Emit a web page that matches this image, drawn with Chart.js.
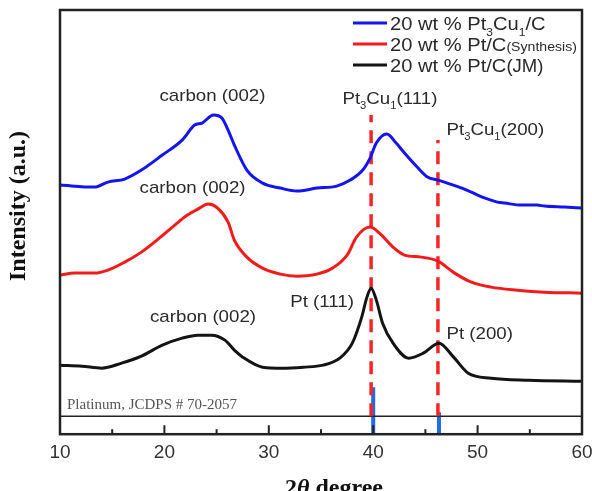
<!DOCTYPE html>
<html>
<head>
<meta charset="utf-8">
<script src="https://cdn.jsdelivr.net/npm/chart.js@4.4.1/dist/chart.umd.min.js"></script>
<style>
    html, body { margin: 0; padding: 0; background: #fff; }
</style>
</head>
<body>
<canvas id="xrdChart" width="592" height="491"></canvas>
<script>
// XRD patterns, 2-theta (deg) vs intensity (a.u., curves stacked with offsets)
const ptCuTheta = [10.0, 13.3, 14.6, 16.2, 17.8, 19.8, 21.7, 22.9, 23.6, 24.7, 25.5, 26.1, 26.7, 27.9, 29.4, 31.1, 32.7, 34.6, 36.5, 37.8, 39.0, 39.7, 40.3, 41.3, 42.2, 43.0, 44.3, 45.2, 46.2, 47.1, 48.5, 49.4, 50.0, 51.0, 51.9, 52.6, 54.2, 55.7, 56.4, 58.3, 60.0];
const ptCuIntensity = [249, 247, 252, 255, 264, 279, 294, 309, 311, 319, 316, 304, 289, 264, 251, 246, 243, 246, 248, 254, 264, 276, 291, 300, 291, 281, 266, 257, 254, 251, 246, 242, 239, 235, 232, 231, 229, 229, 228, 227, 226];

const ptSynTheta = [10.0, 11.4, 13.3, 14.6, 16.2, 17.8, 19.4, 21.0, 22.2, 23.2, 24.2, 25.1, 26.1, 26.7, 27.9, 29.4, 31.1, 32.7, 34.6, 36.1, 37.5, 38.4, 39.7, 40.6, 41.9, 43.0, 44.6, 46.2, 47.8, 49.4, 51.3, 53.8, 56.4, 60.0];
const ptSynIntensity = [159, 161, 161, 164, 172, 182, 195, 209, 219, 225, 230, 226, 212, 194, 177, 166, 160, 158, 160, 166, 179, 197, 207, 201, 187, 179, 177, 173, 161, 152, 147, 144, 142, 141];

const ptJmTheta = [10.0, 12.1, 14.0, 15.9, 17.8, 19.8, 21.7, 23.2, 24.5, 25.8, 26.7, 27.5, 29.4, 31.3, 33.3, 35.2, 36.8, 38.0, 38.9, 39.4, 39.8, 40.3, 40.9, 41.9, 43.4, 44.8, 46.3, 47.7, 49.1, 51.3, 54.9, 60.0];
const ptJmIntensity = [69, 68, 66, 71, 78, 89, 96, 99, 99, 94, 84, 77, 67, 66, 67, 69, 76, 91, 117, 137, 146, 134, 111, 91, 76, 81, 91, 77, 61, 56, 54, 53];

// Platinum reference pattern (JCPDS 70-2057)
const refTheta = [40.0, 46.3];
const refIntensity = [47, 22];
const refBaseline = 18;

// dashed guide lines for Pt3Cu1 (111) and (200)
const guideTheta = [39.8, 46.2];
const guideTop = [319, 294];

const xTicks = [10, 20, 30, 40, 50, 60];
const seriesNames = ['20 wt % Pt3Cu1/C', '20 wt % Pt/C(Synthesis)', '20 wt % Pt/C(JM)'];

function toPoints(xs, ys) {
    return xs.map(function(x, i) { return { x: x, y: ys[i] }; });
}

function curve(label, xs, ys, color) {
    return {
        label: label,
        data: toPoints(xs, ys),
        borderColor: color,
        borderWidth: 3,
        pointRadius: 0,
        showLine: true,
        cubicInterpolationMode: 'monotone'
    };
}

const datasets = [
    curve(seriesNames[0], ptCuTheta, ptCuIntensity, '#1414f0'),
    curve(seriesNames[1], ptSynTheta, ptSynIntensity, '#f31a1a'),
    curve(seriesNames[2], ptJmTheta, ptJmIntensity, '#141414')
];

guideTheta.forEach(function(t, i) {
    datasets.push({
        label: 'guide' + i,
        data: [{ x: t, y: refBaseline }, { x: t, y: guideTop[i] }],
        borderColor: '#f52626',
        borderWidth: 3.5,
        borderDash: [13, 8],
        pointRadius: 0,
        showLine: true
    });
});

datasets.push({
    label: 'baseline',
    data: [{ x: xTicks[0], y: refBaseline }, { x: xTicks[xTicks.length - 1], y: refBaseline }],
    borderColor: '#222',
    borderWidth: 1.5,
    pointRadius: 0,
    showLine: true
});

refTheta.forEach(function(t, i) {
    datasets.push({
        label: 'ref' + i,
        data: [{ x: t, y: 0 }, { x: t, y: refIntensity[i] }],
        borderColor: '#1f6be8',
        borderWidth: 4,
        pointRadius: 0,
        showLine: true
    });
});

const SANS = 'Arial, "Liberation Sans", sans-serif';
const SERIF = '"Times New Roman", "Liberation Serif", serif';

// text segments: [text, relative size, baseline shift in em, font style]
function drawRich(ctx, parts, x, y, size, opts) {
    const family = opts.family || SANS;
    const weight = opts.weight ? opts.weight + ' ' : '';
    const sx = opts.stretch || 1;
    let w = 0;
    parts.forEach(function(p) {
        ctx.font = (p[3] || weight) + (size * (p[1] || 1)) + 'px ' + family;
        w += ctx.measureText(p[0]).width;
    });
    const startX = opts.align === 'center' ? x - w * sx / 2 : x;
    ctx.save();
    ctx.fillStyle = opts.color || '#222';
    ctx.textBaseline = 'alphabetic';
    ctx.textAlign = 'left';
    ctx.translate(startX, y);
    ctx.scale(sx, 1);
    let px = 0;
    parts.forEach(function(p) {
        ctx.font = (p[3] || weight) + (size * (p[1] || 1)) + 'px ' + family;
        ctx.fillText(p[0], px, (p[2] || 0) * size);
        px += ctx.measureText(p[0]).width;
    });
    ctx.restore();
}

// peak labels anchored in data coordinates (center x, baseline y)
const peakLabels = [
    { at: [24.6, 333], parts: [['carbon (002)']] },
    { at: [22.7, 241], parts: [['carbon (002)']] },
    { at: [23.7, 112], parts: [['carbon (002)']] },
    { at: [41.6, 330], parts: [['Pt'], ['3', 0.6, 0.3], ['Cu'], ['1', 0.6, 0.3], ['(111)']] },
    { at: [51.7, 299], parts: [['Pt'], ['3', 0.6, 0.3], ['Cu'], ['1', 0.6, 0.3], ['(200)']] },
    { at: [35.1, 127], parts: [['Pt (111)']] },
    { at: [50.2, 95], parts: [['Pt (200)']] }
];

const legendParts = [
    [['20 wt % Pt'], ['3', 0.6, 0.3], ['Cu'], ['1', 0.6, 0.3], ['/C']],
    [['20 wt % Pt/C'], ['(Synthesis)', 0.7]],
    [['20 wt % Pt/C'], ['(JM)', 0.92]]
];
const legendColors = ['#1414f0', '#f31a1a', '#141414'];

const decorPlugin = {
    id: 'decor',
    afterDatasetsDraw: function(chart) {
        const ctx = chart.ctx;
        const area = chart.chartArea;
        const xs = chart.scales.x;
        const ys = chart.scales.y;

        // inward ticks
        ctx.save();
        ctx.strokeStyle = '#222';
        ctx.lineWidth = 2;
        for (let v = xTicks[0]; v <= xTicks[xTicks.length - 1]; v += 5) {
            const px = xs.getPixelForValue(v);
            const len = v % 10 === 0 ? 9 : 5;
            ctx.beginPath();
            ctx.moveTo(px, area.bottom);
            ctx.lineTo(px, area.bottom - len);
            ctx.stroke();
        }
        // frame
        ctx.lineWidth = 2.5;
        ctx.strokeRect(area.left, area.top, area.right - area.left, area.bottom - area.top);
        ctx.restore();

        peakLabels.forEach(function(l) {
            drawRich(ctx, l.parts, xs.getPixelForValue(l.at[0]), ys.getPixelForValue(l.at[1]), 17,
                { align: 'center', stretch: 1.1, color: '#2a2a2a' });
        });

        drawRich(ctx, [['Platinum, JCDPS # 70-2057']], area.left + 7, ys.getPixelForValue(refBaseline) - 7, 15,
            { family: SERIF, color: '#555' });

        // legend
        legendParts.forEach(function(parts, i) {
            const cy = area.top + 13 + i * 21;
            ctx.save();
            ctx.strokeStyle = legendColors[i];
            ctx.lineWidth = 3;
            ctx.beginPath();
            ctx.moveTo(353, cy);
            ctx.lineTo(387, cy);
            ctx.stroke();
            ctx.restore();
            drawRich(ctx, parts, 390, cy + 7, 19, { stretch: 1.06, color: '#2a2a2a' });
        });

        // axis titles
        drawRich(ctx, [['2'], ['\u03b8', 1, 0, 'italic bold '], [' degree']], 334, 495, 24,
            { family: SERIF, weight: 'bold', align: 'center', color: '#111' });
        ctx.save();
        ctx.translate(25, 206);
        ctx.rotate(-Math.PI / 2);
        ctx.font = 'bold 24px ' + SERIF;
        ctx.fillStyle = '#111';
        ctx.textAlign = 'center';
        ctx.textBaseline = 'alphabetic';
        ctx.fillText('Intensity (a.u.)', 0, 0);
        ctx.restore();
    }
};

new Chart(document.getElementById('xrdChart').getContext('2d'), {
    type: 'scatter',
    data: { datasets: datasets },
    options: {
        responsive: false,
        animation: false,
        layout: {
            autoPadding: false,
            padding: { left: 60, right: 10, top: 10, bottom: 20 }
        },
        plugins: {
            legend: { display: false },
            tooltip: { enabled: false }
        },
        scales: {
            x: {
                type: 'linear',
                min: 10,
                max: 60,
                afterBuildTicks: function(axis) {
                    axis.ticks = xTicks.map(function(v) { return { value: v }; });
                },
                afterFit: function(axis) {
                    // let the last label run off the edge like the original
                    axis.paddingLeft = 0;
                    axis.paddingRight = 0;
                },
                ticks: {
                    color: '#333',
                    padding: 7,
                    font: { family: SANS, size: 19 }
                },
                grid: { display: false, drawTicks: false },
                border: { display: false }
            },
            y: {
                display: false,
                min: 0,
                max: 424
            }
        }
    },
    plugins: [decorPlugin]
});
</script>
</body>
</html>
